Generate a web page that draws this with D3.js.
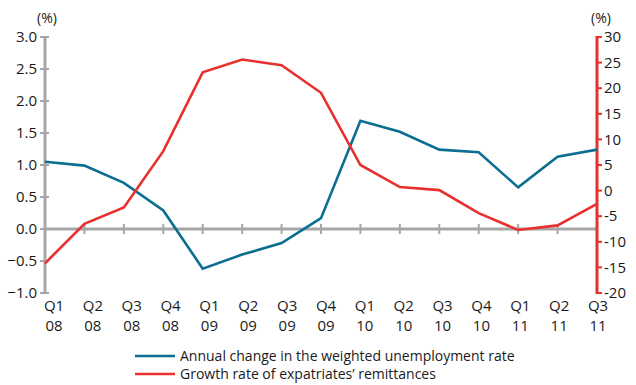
<!DOCTYPE html>
<html><head><meta charset="utf-8">
<script src="https://cdn.jsdelivr.net/npm/d3@7/dist/d3.min.js"></script>
<style>
body{margin:0;background:#fff;}
text{font-family:"Open Sans","Noto Sans",sans-serif;fill:#1a1a1a;}
</style></head>
<body><svg id="c" width="636" height="385"></svg>
<script>
const quarters = ["Q1","Q2","Q3","Q4","Q1","Q2","Q3","Q4","Q1","Q2","Q3","Q4","Q1","Q2","Q3"];
const years    = ["08","08","08","08","09","09","09","09","10","10","10","10","11","11","11"];
const unemployment = [1.05,0.99,0.72,0.29,-0.62,-0.40,-0.22,0.17,1.69,1.52,1.24,1.20,0.65,1.13,1.24];
const remittances  = [-14.2,-6.5,-3.3,7.7,23.1,25.6,24.5,19.1,5.0,0.7,0.1,-4.4,-7.7,-6.8,-2.6];
const leftTicks  = [-1.0,-0.5,0.0,0.5,1.0,1.5,2.0,2.5,3.0];
const rightTicks = [-20,-15,-10,-5,0,5,10,15,20,25,30];
const seriesNames = ["Annual change in the weighted unemployment rate","Growth rate of expatriates\u2019 remittances"];
const colors = ["#0b6e91","#e8302e"];

const svg = d3.select("#c");
const x = d3.scaleLinear().domain([0,14]).range([45,597]);
const xl = d3.scaleLinear().domain([0,14]).range([54,598]);
const yL = d3.scaleLinear().domain([-1,3]).range([293,37]);
const yR = d3.scaleLinear().domain([-20,30]).range([293,37]);
const grey = "#a6a6a6";

// left axis
const gl = svg.append("g").attr("transform","translate(45,0)");
gl.append("line").attr("y1",yL(-1)+1).attr("y2",yL(3)-1).attr("stroke",grey).attr("stroke-width",3);
gl.selectAll("line.t").data(leftTicks).join("line").attr("class","t")
  .attr("x1",-5).attr("x2",4).attr("y1",d=>yL(d)).attr("y2",d=>yL(d)).attr("stroke",grey).attr("stroke-width",2);
gl.selectAll("text").data(leftTicks).join("text")
  .attr("x",-8).attr("y",d=>yL(d)).attr("dy","0.35em").attr("text-anchor","end")
  .style("font-size","15px").text(d=>d3.format(".1f")(d));
svg.append("text").attr("x",47).attr("y",23).attr("text-anchor","middle").style("font-size","14px").text("(%)");

// zero line with ticks
svg.append("line").attr("x1",x(0)).attr("x2",x(14)).attr("y1",yL(0)).attr("y2",yL(0)).attr("stroke",grey).attr("stroke-width",3);
svg.selectAll("line.xt").data(d3.range(1,14)).join("line").attr("class","xt")
  .attr("x1",d=>x(d)).attr("x2",d=>x(d)).attr("y1",yL(0)-5).attr("y2",yL(0)+5).attr("stroke",grey).attr("stroke-width",2);

// x labels
const xg = svg.append("g");
xg.selectAll("text.q").data(quarters).join("text").attr("class","q")
  .attr("x",(d,i)=>xl(i)).attr("y",311).attr("text-anchor","middle").style("font-size","15px").text(d=>d);
xg.selectAll("text.yr").data(years).join("text").attr("class","yr")
  .attr("x",(d,i)=>xl(i)).attr("y",331).attr("text-anchor","middle").style("font-size","15px").text(d=>d);

// right axis
const gr = svg.append("g").attr("transform","translate(597,0)");
gr.append("line").attr("y1",yR(-20)+1).attr("y2",yR(30)-1).attr("stroke",colors[1]).attr("stroke-width",3);
gr.selectAll("line.t").data(rightTicks).join("line").attr("class","t")
  .attr("x1",0).attr("x2",5).attr("y1",d=>yR(d)).attr("y2",d=>yR(d)).attr("stroke",colors[1]).attr("stroke-width",2);
gr.selectAll("text").data(rightTicks).join("text")
  .attr("x",7).attr("y",d=>yR(d)).attr("dy","0.35em").attr("text-anchor","start")
  .style("font-size","15px").text(d=>d);
svg.append("text").attr("x",601).attr("y",23).attr("text-anchor","middle").style("font-size","14px").text("(%)");

// lines
const lineL = d3.line().x((d,i)=>x(i)).y(d=>yL(d));
const lineR = d3.line().x((d,i)=>x(i)).y(d=>yR(d));
svg.append("path").attr("d",lineL(unemployment)).attr("fill","none").attr("stroke",colors[0]).attr("stroke-width",2.6).attr("stroke-linejoin","miter");
svg.append("path").attr("d",lineR(remittances)).attr("fill","none").attr("stroke",colors[1]).attr("stroke-width",2.6).attr("stroke-linejoin","miter");

// legend
const lg = svg.append("g");
seriesNames.forEach((n,i)=>{
  const yy = 356 + i*18;
  lg.append("line").attr("x1",135).attr("x2",175).attr("y1",yy).attr("y2",yy).attr("stroke",colors[i]).attr("stroke-width",2.6);
  lg.append("text").attr("x",180).attr("y",yy).attr("dy","0.35em").style("font-size","14px").text(n);
});
</script></body></html>
